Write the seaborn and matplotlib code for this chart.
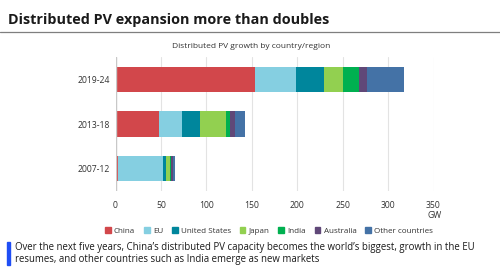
import numpy as np
import pandas as pd
import seaborn as sns
import matplotlib.pyplot as plt
from matplotlib.patches import Rectangle

periods = ["2019-24", "2013-18", "2007-12"]
regions = ["China", "EU", "United States", "Japan", "India", "Australia", "Other countries"]
colors = ["#d2474b", "#85cfe1", "#00869c", "#92d050", "#00b050", "#604878", "#4472a6"]

china = [154, 48, 2.5]
eu = [45, 25.5, 50]
us = [31, 20, 3.5]
japan = [20, 28.5, 4.5]
india = [17.5, 4, 0.5]
australia = [9, 5.5, 2]
other = [40.5, 11, 2]

xticks = [0, 50, 100, 150, 200, 250, 300, 350]

sns.set_theme(style="white")
plt.rcParams["font.family"] = ["Open Sans", "DejaVu Sans"]

df = pd.DataFrame({"period": periods, "China": china, "EU": eu, "United States": us,
                   "Japan": japan, "India": india, "Australia": australia,
                   "Other countries": other})
cum = df[regions].cumsum(axis=1)

fig = plt.figure(figsize=(5, 2.69), dpi=100)
ax = fig.add_axes([115.5 / 500, 78 / 269, 318 / 500, 134 / 269])

# stacked bars: draw cumulative totals back to front
for reg, col in reversed(list(zip(regions, colors))):
    sns.barplot(x=cum[reg], y=df["period"], color=col, width=0.56,
                saturation=1, ax=ax, edgecolor="none", linewidth=0, legend=False)

ax.set_xlim(0, 350)
ax.set_ylim(2.5, -0.5)
ax.set_xticks(xticks)
ax.set_xlabel("")
ax.set_ylabel("")
ax.grid(axis="x", color="#e3e3e3", linewidth=0.8)
ax.set_axisbelow(True)
for s in ax.spines.values():
    s.set_visible(False)
ax.axvline(0, color="#c8c8c8", linewidth=1, zorder=5)
ax.tick_params(axis="both", length=0, labelsize=6.2, colors="#333333")
ax.tick_params(axis="x", pad=7)
ax.tick_params(axis="y", pad=4)

fig.text(0.016, 0.925, "Distributed PV expansion more than doubles", fontsize=10.4,
         fontweight="bold", color="#1a1a1a", va="center")
fig.add_artist(plt.Line2D([0, 1], [1 - 31.5 / 269] * 2, color="#7f7f7f", linewidth=0.9))
fig.text(0.502, 1 - 46 / 269, "Distributed PV growth by country/region", fontsize=6.0,
         color="#333333", ha="center", va="center")
fig.text(442 / 500, 1 - 215 / 269, "GW", fontsize=6.2, color="#333333", ha="right", va="center")

handles = [Rectangle((0, 0), 1, 1, color=c) for c in colors]
fig.legend(handles, regions, loc="center", bbox_to_anchor=(269 / 500, 1 - 231 / 269), ncol=7,
           frameon=False, fontsize=5.8, handlelength=0.7, handleheight=0.7,
           handletextpad=0.4, columnspacing=1.1, labelcolor="#333333")

fig.add_artist(Rectangle((7 / 500, 4 / 269), 3 / 500, 23 / 269, color="#1f4ef5",
                         transform=fig.transFigure))
fig.text(15 / 500, 1 - 253.5 / 269,
         "Over the next five years, China\u2019s distributed PV capacity becomes the world\u2019s biggest, growth in the EU\n"
         "resumes, and other countries such as India emerge as new markets",
         fontsize=6.95, color="#1a1a1a", va="center", linespacing=1.2)

fig.savefig("out.png", dpi=100)
